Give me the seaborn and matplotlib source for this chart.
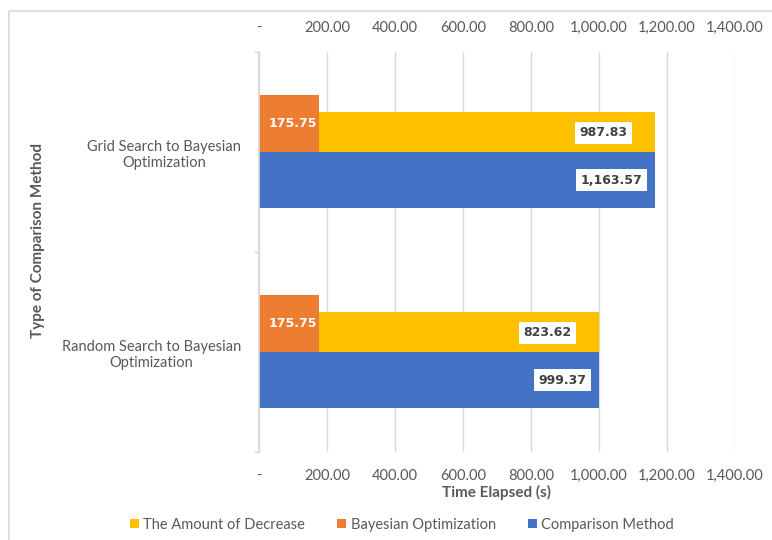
import matplotlib
matplotlib.use('Agg')
import matplotlib.pyplot as plt
from matplotlib.patches import Rectangle
from matplotlib.ticker import FuncFormatter
import seaborn as sns

# data
categories = ['Grid Search to Bayesian\nOptimization',
              'Random Search to Bayesian\nOptimization']
bayesian = [175.75, 175.75]
decrease = [987.83, 823.62]
comparison = [1163.57, 999.37]
x_ticks = [0, 200, 400, 600, 800, 1000, 1200, 1400]
series_names = ['The Amount of Decrease', 'Bayesian Optimization', 'Comparison Method']

sns.set_theme(style='white')
plt.rcParams['font.family'] = ['Lato', 'DejaVu Sans']
colors = sns.color_palette(['#FFC000', '#ED7D31', '#4472C4'])
grey = '#595959'

fig = plt.figure(figsize=(7.72, 5.40), dpi=100)
ax = fig.add_axes([259 / 772, 1 - 452 / 540, 476 / 772, 400 / 540])

pos = list(range(len(categories)))

# bars: orange + yellow stacked above the category line, blue below
b_orange = ax.barh(pos, bayesian, height=-0.285, align='edge', color=colors[1], linewidth=0)
b_yellow = ax.barh(pos, decrease, left=bayesian, height=-0.2, align='edge', color=colors[0], linewidth=0)
b_blue = ax.barh(pos, comparison, height=0.28, align='edge', color=colors[2], linewidth=0)

ax.set_xlim(0, 1400)
ax.set_ylim(1.5, -0.5)
ax.set_xticks(x_ticks)
ax.xaxis.set_major_formatter(FuncFormatter(lambda v, p: '-' if v == 0 else f'{v:,.2f}'))
ax.tick_params(axis='x', top=False, bottom=False, labeltop=True, labelbottom=True,
               labelsize=10.5, labelcolor=grey, pad=6.5)
ax.grid(axis='x', color='#D9D9D9', linewidth=1)
ax.set_axisbelow(True)

ax.set_yticks(pos, categories)
ax.set_yticks([-0.5, 0.5, 1.5], minor=True)
ax.tick_params(axis='y', which='major', left=False, length=0, labelsize=10.5, labelcolor=grey, pad=13)
ax.tick_params(axis='y', which='minor', left=True, length=3.6, width=1, color='#D9D9D9')
for lbl in ax.get_yticklabels():
    lbl.set_multialignment('center')

for s in ['top', 'right', 'bottom']:
    ax.spines[s].set_visible(False)
ax.spines['left'].set_color('#D9D9D9')

# data labels
lab_font = dict(family='DejaVu Sans', weight='bold', size=9)
box = dict(boxstyle='square,pad=0.35', facecolor='white', edgecolor='none')
for p, b, d, c in zip(pos, bayesian, decrease, comparison):
    ax.annotate(f'{b:,.2f}', xy=(b, p - 0.1425), xytext=(-2, 0), textcoords='offset pixels',
                ha='right', va='center', color='white', **lab_font)
    ax.annotate(f'{d:,.2f}', xy=(b + d, p - 0.1), xytext=(-27, -1), textcoords='offset pixels',
                ha='right', va='center', color='#404040', bbox=box, **lab_font)
    ax.annotate(f'{c:,.2f}', xy=(c, p + 0.14), xytext=(-12, 0), textcoords='offset pixels',
                ha='right', va='center', color='#404040', bbox=box, **lab_font)

# axis titles
fig.text(497 / 772, 1 - 492 / 540, 'Time Elapsed (s)', ha='center', va='center',
         weight='bold', size=11, color=grey)
fig.text(38 / 772, 1 - 240 / 540, 'Type of Comparison Method', rotation=90, ha='center',
         va='center', weight='bold', size=11, color=grey)

# legend
fig.legend([b_yellow, b_orange, b_blue], series_names, loc='center',
           bbox_to_anchor=(402 / 772, 1 - 525 / 540), ncol=3, frameon=False, fontsize=10.5,
           handlelength=0.6, handleheight=0.6, handletextpad=0.3, columnspacing=2.2,
           labelcolor=grey)

# chart area border (only left and top edges visible)
fig.patches.append(Rectangle((9 / 772, -0.5), 2, 0.5 + 1 - 11 / 540, transform=fig.transFigure,
                             fill=False, edgecolor='#D9D9D9', linewidth=1.2))

fig.savefig('out.png', dpi=100)
